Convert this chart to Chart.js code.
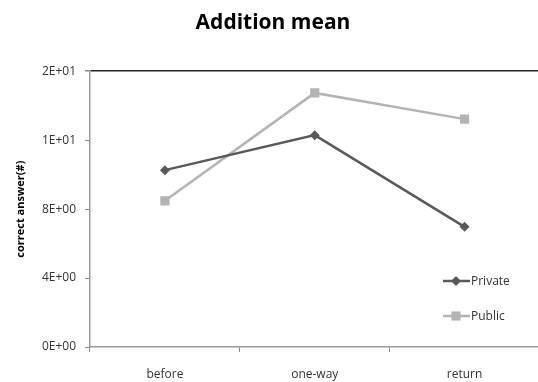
<!DOCTYPE html>
<html lang="en">
<head>
<meta charset="UTF-8">
<title>Addition mean</title>
<script src="https://cdn.jsdelivr.net/npm/chart.js@4"></script>
<style>
  html, body { margin: 0; padding: 0; background: #fff; overflow: hidden; }
  #wrap { width: 538px; height: 382px; overflow: hidden; }
</style>
</head>
<body>
<div id="wrap"><canvas id="chart" width="546" height="382"></canvas></div>
<script>
// data
const categories = ['before', 'one-way', 'return'];
const privateVals = [10.26, 12.29, 6.97];
const publicVals  = [8.48, 14.74, 13.22];
const yTicks      = [0, 4, 8, 12, 16];

// Excel-style scientific format: 4 -> 4E+00, 12 -> 1E+01
function sci(v) {
  if (v === 0) return '0E+00';
  const [m, e] = v.toExponential(0).split('e');
  const n = parseInt(e, 10);
  return m + 'E' + (n < 0 ? '-' : '+') + String(Math.abs(n)).padStart(2, '0');
}

// legend drawn inside the plot, bottom right
const innerLegend = {
  id: 'innerLegend',
  afterDraw(chart) {
    const ctx = chart.ctx;
    const rows = [281, 316];
    chart.data.datasets.forEach((ds, i) => {
      const y = rows[i];
      ctx.save();
      ctx.strokeStyle = ds.borderColor;
      ctx.lineWidth = ds.borderWidth;
      ctx.beginPath();
      ctx.moveTo(443, y);
      ctx.lineTo(470, y);
      ctx.stroke();
      ctx.fillStyle = ds.pointBackgroundColor;
      Chart.helpers.drawPoint(ctx, {
        pointStyle: ds.pointStyle, radius: ds.pointRadius, borderWidth: 0
      }, 456, y);
      ctx.fillStyle = '#333';
      ctx.font = '12px "Open Sans"';
      ctx.textAlign = 'left';
      ctx.textBaseline = 'middle';
      ctx.fillText(ds.label, 471, y + 1);
      ctx.restore();
    });
  }
};

new Chart(document.getElementById('chart'), {
  type: 'line',
  data: {
    labels: categories,
    datasets: [
      {
        label: 'Private',
        data: privateVals,
        borderColor: '#595959',
        backgroundColor: '#595959',
        pointBackgroundColor: '#595959',
        pointBorderWidth: 0,
        borderWidth: 2.5,
        pointStyle: 'rectRot',
        pointRadius: 5,
        tension: 0
      },
      {
        label: 'Public',
        data: publicVals,
        borderColor: '#b3b3b3',
        backgroundColor: '#b3b3b3',
        pointBackgroundColor: '#b3b3b3',
        pointBorderWidth: 0,
        borderWidth: 2.5,
        pointStyle: 'rect',
        pointRadius: 6.5,
        tension: 0
      }
    ]
  },
  options: {
    responsive: false,
    animation: false,
    layout: { padding: { top: 0, left: 0, right: 0, bottom: 0 } },
    plugins: {
      legend: { display: false },
      tooltip: { enabled: false },
      title: {
        display: true,
        text: 'Addition mean',
        color: '#000',
        font: { family: 'Open Sans', size: 21, weight: 'bold' },
        padding: { top: 10, bottom: 36 }
      }
    },
    scales: {
      x: {
        offset: true,
        grid: {
          offset: true,
          drawOnChartArea: false,
          drawTicks: true,
          tickLength: 5,
          color: '#888'
        },
        border: { color: '#999', width: 1.5 },
        ticks: {
          color: '#333',
          font: { family: 'Open Sans', size: 12 },
          padding: 15
        },
        afterFit(scale) { scale.height = 35; }
      },
      y: {
        min: 0,
        max: 16,
        afterBuildTicks(scale) { scale.ticks = yTicks.map(v => ({ value: v })); },
        grid: {
          drawTicks: true,
          tickLength: 5,
          color: ctx => ctx.tick && ctx.tick.value === 16 ? '#222' : 'transparent',
          lineWidth: ctx => ctx.tick && ctx.tick.value === 16 ? 1.5 : 1,
          tickColor: '#888'
        },
        border: { color: '#999', width: 1.5 },
        ticks: {
          color: '#333',
          font: { family: 'Open Sans', size: 12 },
          padding: 9,
          callback: v => sci(v)
        },
        title: {
          display: true,
          text: 'correct answer(#)',
          color: '#000',
          font: { family: 'Open Sans', size: 11, weight: 'bold' },
          padding: { top: 14, bottom: 0 }
        },
        afterFit(scale) { scale.width = 90; }
      }
    }
  },
  plugins: [innerLegend]
});
</script>
</body>
</html>
